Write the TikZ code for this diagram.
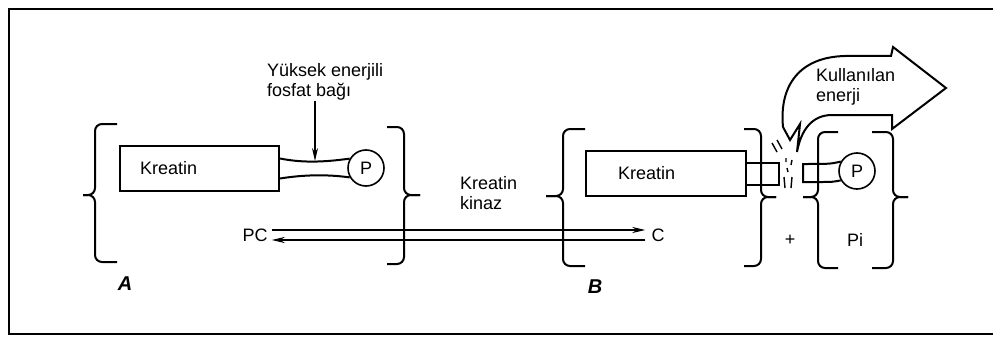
\documentclass[tikz,border=0pt]{standalone}
\usepackage{fontspec}
\setmainfont{Liberation Sans}
\usepackage{tikz}
\usetikzlibrary{arrows.meta}

% bracket: x, hook end, tick end, top, middle, bottom
\newcommand\brak[6]{%
  \draw[brak] (#2,#4) -- (#1,#4) -- (#1,#5) -- (#3,#5);
  \draw[brak] (#3,#5) -- (#1,#5) -- (#1,#6) -- (#2,#6);}

\begin{document}
\begin{tikzpicture}[
  x=1pt, y=-1pt,
  every node/.style={font=\fontsize{18}{20}\selectfont, inner sep=0pt},
  thickline/.style={line width=2pt},
  brak/.style={line width=2pt, rounded corners=7pt},
  box/.style={draw, line width=2pt, rectangle, anchor=north west,
    minimum height=45pt, align=left},
  ball/.style={draw, circle, line width=1.6pt, minimum size=36pt},
  arr/.style={-{Stealth[length=13pt,width=6pt]}, line width=2pt}
]
\useasboundingbox (0,0) rectangle (993,345);
\draw[line width=1.8pt] (993,9) -- (9,9) -- (9,334) -- (993,334);

% A: creatine phosphate
\node[box, inner xsep=20pt, text width=119pt] (kreatinA) at (119,145) {Kreatin};
\node[ball] (pA) at (366,168) {P};
\draw[thickline] ([yshift=10pt]kreatinA.east) .. controls +(25,5) and +(-22,3) .. (pA.150);
\draw[thickline] ([yshift=-10pt]kreatinA.east) .. controls +(25,-4) and +(-22,-3) .. (pA.210);
\coordinate (bondA) at (315,161);
\node[anchor=west, align=left] (bondlabel) at (267,82) {Yüksek enerjili\\fosfat bağı};
\draw[arr, line width=1.6pt] (bondlabel.south -| bondA) -- (bondA);
\brak{95}{117}{83}{124}{195}{262}
\brak{404}{387}{420}{127}{195}{264}
\node[font=\fontsize{20}{22}\selectfont\bfseries\itshape] (labA) at (125,284) {A};

% reaction
\node[anchor=west, align=left] (kinaz) at (460,193) {Kreatin\\kinaz};
\node (pc) at (255,235) {PC};
\node (c) at (658,235) {C};
\draw[arr, shorten <=4pt, shorten >=6pt] ([yshift=5pt]pc.east) -- ([yshift=5pt]c.west);
\draw[arr, shorten <=6pt, shorten >=4pt] ([yshift=-5pt]c.west) -- ([yshift=-5pt]pc.east);

% B: creatine + Pi
\node[box, inner xsep=32pt, text width=96pt] (kreatinB) at (585,150) {Kreatin};
\draw[thickline] ([yshift=11pt]kreatinB.east) -- +(32,0) -- +(32,22) -- ([yshift=-11pt]kreatinB.east);
\node[ball] (pB) at (857,171) {P};
\draw[thickline] (pB.150) .. controls (830,164) .. (803,164) -- (803,182) -- (822,182) .. controls (832,182) .. (pB.210);
\brak{563}{585}{546}{129}{196}{266}
\brak{761}{744}{776}{129}{197}{266}
\brak{818}{838}{803}{132}{197}{268}
\brak{893}{872}{908}{132}{197}{268}
\node[font=\fontsize{20}{22}\selectfont\bfseries\itshape] (labB) at (595,287) {B};
\node (plus) at (790,240) {+};
\node (pi) at (855,240) {Pi};

% broken bond
\draw[line width=1.4pt] (772,143) -- (777,152) (777,140) -- (782,149)
  (786,158) -- (786,162) (792,160) -- (791,165) (787,168) -- (788,172)
  (784,177) -- (785,188) (792,177) -- (791,188);

% released energy
\draw[line width=2pt, fill=white, line join=miter]
  (783,127) .. controls (779,85) and (800,57) .. (845,56) -- (891,56)
  -- (893,47) -- (946,88) -- (892,129) -- (892,115) -- (832,115)
  .. controls (812,115) and (801,130) .. (797,152) -- (800,124) -- (790,140) -- cycle;
\node[anchor=west, align=left] (energy) at (816,87) {Kullanılan\\enerji};
\end{tikzpicture}
\end{document}
